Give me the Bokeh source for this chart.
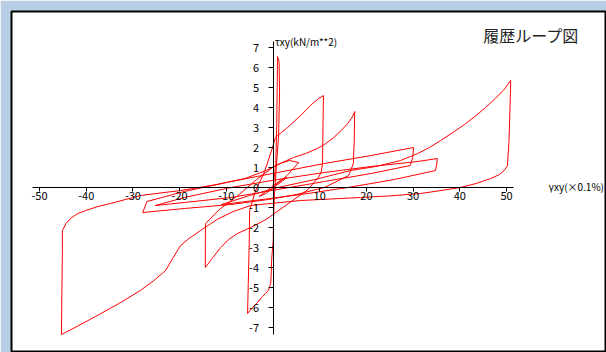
from bokeh.plotting import figure
from bokeh.models import LinearAxis, FixedTicker, Range1d, Label, ColumnDataSource
from bokeh.embed import file_html
from bokeh.resources import INLINE

# Hysteresis path: shear strain γxy (x 0.1%) and shear stress τxy (kN/m**2)
strain = [
    0.0, 0.6, 0.8, 0.9, 0.96, 1.3, 1.4, 1.2, 0.7, 0.3, 0.1, 0.05,
    -0.2, -0.3, -0.4, -0.5, -1.0, -1.6, -2.25, -3.3, -4.4, -5.45,
    -5.3, -5.1, -5.0,
    -3.8, -1.8, -0.1, 0.5, 1.8, 3.1, 4.5, 5.9, 7.0, 8.0, 9.0, 9.8, 10.8,
    10.7, 10.6, 10.3, 9.7,
    7.5, 4.5, 1.5, -1.5, -4.8, -6.2, -7.6, -9.5, -11.2, -13.2, -14.5,
    -14.5, -14.45,
    -11.5, -7.5, -3.5, -0.1, 2.0, 4.4, 7.0, 9.5, 11.3, 13.0, 14.6, 16.0, 16.9, 17.5,
    17.4, 17.2, 16.2,
    11.0, 5.0, -1.0, -9.0, -19.0, -27.9,
    -27.0, -19.0, -9.0, 1.0, 11.0, 21.0, 30.1,
    29.9, 29.4,
    21.0, 11.0, 1.0, -9.0, -19.0, -25.2,
    -19.0, -9.0, 1.0, 11.0, 21.0, 31.0, 35.2,
    35.0, 34.8,
    26.0, 16.0, 6.0, -4.0, -11.0,
    -5.0, 1.0, 9.0, 16.6, 22.0, 27.3, 31.0, 33.5, 35.9, 38.5, 41.0, 43.5, 45.5, 47.6, 49.5, 50.9,
    50.7, 50.5, 50.2, 49.5, 48.5, 46.6, 43.5, 40.1, 36.0, 31.6, 25.0, 18.7, 12.0, 5.9, -4.8,
    -8.5, -12.0, -15.5, -18.0, -19.8, -21.5, -23.0, -25.5, -28.4, -33.0, -38.0, -42.0, -45.3,
    -45.2, -45.1, -45.1,
    -44.3, -43.4, -41.8, -40.1, -37.5, -34.8, -28.4, -19.8, -12.0, -6.0, -1.5, 1.5,
    3.5, 5.5, 3.0, 0.5, -1.5, -3.0, -1.0, 1.5, 3.0, 1.0, 0.0,
]
stress = [
    0.0, 1.2, 3.2, 5.0, 6.55, 6.3, 4.8, 2.6, 1.0, -0.4, -1.6, -2.65,
    -3.3, -3.65, -4.4, -4.8, -5.15, -5.3, -5.45, -5.75, -6.0, -6.3,
    -4.8, -2.8, -1.15,
    -0.2, 0.8, 2.0, 2.5, 2.75, 3.0, 3.3, 3.6, 3.85, 4.1, 4.3, 4.45, 4.6,
    3.1, 1.2, 0.75, 0.5,
    -0.1, -0.6, -1.1, -1.6, -2.0, -2.15, -2.3, -2.6, -3.0, -3.6, -4.0,
    -2.9, -1.8,
    -1.1, -0.4, 0.4, 1.0, 1.25, 1.5, 1.7, 1.95, 2.2, 2.5, 2.85, 3.2, 3.5, 3.8,
    2.4, 1.2, 0.6,
    0.0, -0.35, -0.6, -0.85, -1.05, -1.25,
    -0.7, -0.2, 0.3, 0.75, 1.2, 1.6, 2.0,
    1.5, 1.1,
    0.7, 0.3, -0.1, -0.5, -0.75, -0.9,
    -0.5, 0.0, 0.4, 0.75, 1.05, 1.3, 1.45,
    1.1, 0.85,
    0.4, 0.0, -0.35, -0.65, -0.85,
    -0.4, 0.0, 0.4, 0.85, 1.05, 1.35, 1.7, 2.0, 2.35, 2.75, 3.15, 3.6, 4.0, 4.45, 4.9, 5.35,
    3.6, 2.2, 1.1, 0.85, 0.65, 0.45, 0.2, 0.0, -0.15, -0.3, -0.42, -0.5, -0.58, -0.65, -0.9,
    -1.2, -1.6, -2.15, -2.55, -2.9, -3.55, -4.15, -4.65, -5.15, -5.8, -6.45, -6.95, -7.35,
    -5.0, -3.2, -2.15,
    -1.8, -1.55, -1.3, -1.15, -0.95, -0.8, -0.4, -0.15, 0.15, 0.45, 0.85, 1.2,
    1.35, 1.25, 0.6, 0.1, -0.3, -0.45, -0.1, 0.35, 0.5, 0.15, 0.0,
]

x_ticks = [-50, -40, -30, -20, -10, 10, 20, 30, 40, 50]
x_tick_labels = ["-50", "-40", "-30", "-20", "-10", "10", "20", "30", "40", "50"]
y_ticks = [-7, -6, -5, -4, -3, -2, -1, 0, 1, 2, 3, 4, 5, 6, 7]
y_tick_labels = ["-7", "-6", "-5", "-4", "-3", "-2", "-1", "0", "1", "2", "3", "4", "5", "6", "7"]

title_text = "履歴ループ図"
x_title = "γxy(×0.1%)"
y_title = "τxy(kN/m**2)"

FONT = "Noto Sans CJK JP"

p = figure(width=606, height=352, output_backend="svg", toolbar_location=None,
           x_range=Range1d(-56.0, 71.41), y_range=Range1d(-8.2, 8.8),
           x_axis_type=None, y_axis_type=None,
           min_border_left=11, min_border_top=11, min_border_right=0, min_border_bottom=1)
p.border_fill_color = "#b9cde5"
p.background_fill_color = "white"
p.outline_line_color = "black"
p.outline_line_width = 2

src = ColumnDataSource(data=dict(x=strain, y=stress))
p.line("x", "y", source=src, line_color="#ff0000", line_width=1)

xaxis = LinearAxis(ticker=FixedTicker(ticks=x_ticks),
                   major_label_overrides={t: s for t, s in zip(x_ticks, x_tick_labels)},
                   fixed_location=0, bounds=(-51.5, 51.5),
                   axis_line_color="black", axis_line_width=1,
                   major_tick_line_color="black", major_tick_out=4, major_tick_in=0,
                   minor_tick_line_color=None, major_label_standoff=0,
                   major_label_text_font=FONT, major_label_text_font_size="11px",
                   major_label_text_color="black")
p.add_layout(xaxis, "below")

yaxis = LinearAxis(ticker=FixedTicker(ticks=y_ticks),
                   major_label_overrides={t: s for t, s in zip(y_ticks, y_tick_labels)},
                   fixed_location=0, bounds=(-7.35, 7.3),
                   axis_line_color="black", axis_line_width=1,
                   major_tick_line_color="black", major_tick_out=5, major_tick_in=0,
                   minor_tick_line_color=None, major_label_standoff=9,
                   major_label_text_font=FONT, major_label_text_font_size="11px",
                   major_label_text_color="black")
p.add_layout(yaxis, "left")

p.add_layout(Label(x=0.35, y=7.3, text=y_title, text_font=FONT, text_font_size="10px",
                   text_baseline="middle", text_align="left", text_color="black"))
p.add_layout(Label(x=59.0, y=0.05, text=x_title, text_font=FONT, text_font_size="10px",
                   text_baseline="middle", text_align="left", text_color="black"))
p.add_layout(Label(x=45.0, y=7.65, text=title_text, text_font=FONT, text_font_size="16px",
                   text_baseline="middle", text_align="left", text_color="#222222"))

open("out.html", "w").write(file_html(p, INLINE))
